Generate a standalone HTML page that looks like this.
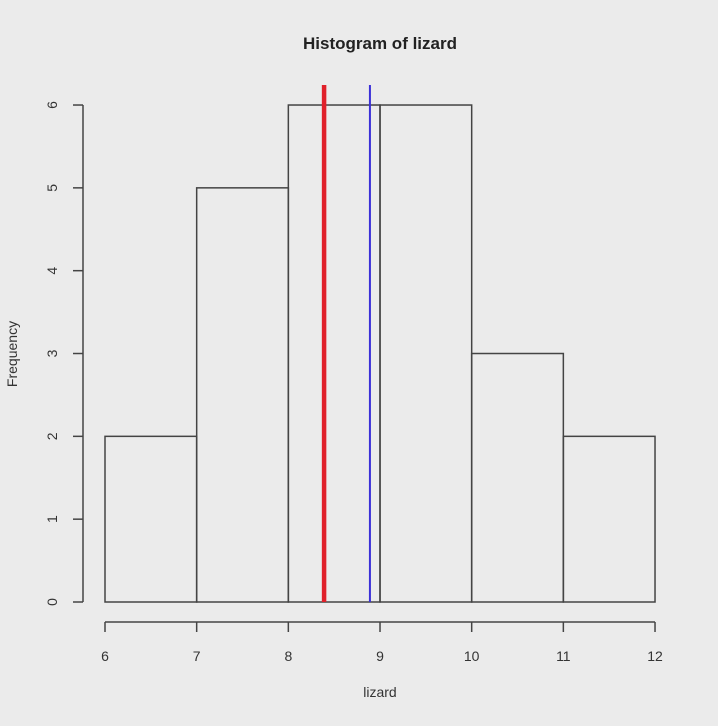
<!DOCTYPE html>
<html><head><meta charset="utf-8"><style>
html,body{margin:0;padding:0;background:#ebebeb;}
svg{display:block;font-family:"Liberation Sans",Arial,sans-serif;}
</style></head><body>
<svg id="chart" width="718" height="726" viewBox="0 0 718 726" xmlns="http://www.w3.org/2000/svg">
<rect width="718" height="726" fill="#ebebeb"/>
<text x="380" y="49" text-anchor="middle" font-size="17" font-weight="bold" fill="#222">Histogram of lizard</text>
<text x="380" y="697" text-anchor="middle" font-size="14" fill="#333">lizard</text>
<text transform="translate(17,354) rotate(-90)" text-anchor="middle" font-size="14" fill="#333">Frequency</text>
<g id="bars"></g><g id="axes"></g><g id="lines"></g>
</svg>
<script>
const binEdges=[6,7,8,9,10,11,12];
const counts=[2,5,6,6,3,2];
const xTicks=[6,7,8,9,10,11,12];
const yTicks=[0,1,2,3,4,5,6];
const redValue=8.39;
const blueValue=8.89;
const NS="http://www.w3.org/2000/svg";
function xs(v){return 105+(v-6)*91.67;}
function ys(v){return 602-v*82.83;}
function mk(t,a,p){const e=document.createElementNS(NS,t);for(const k in a)e.setAttribute(k,a[k]);p.appendChild(e);return e;}
const bars=document.getElementById('bars'),axes=document.getElementById('axes'),lines=document.getElementById('lines');
counts.forEach((c,i)=>{
 const r=mk('rect',{x:xs(binEdges[i]),y:ys(c),width:xs(binEdges[i+1])-xs(binEdges[i]),height:ys(0)-ys(c),fill:'none',stroke:'#444','stroke-width':1.5},bars);
 
 
});
let xl=mk('line',{x1:xs(xTicks[0]),x2:xs(xTicks[xTicks.length-1]),y1:622,y2:622,stroke:'#444','stroke-width':1.5},axes);


xTicks.forEach(t=>{
 const l=mk('line',{x1:xs(t),x2:xs(t),y1:622,y2:632,stroke:'#444','stroke-width':1.5},axes);
 
 
 const tx=mk('text',{x:xs(t),y:661,'text-anchor':'middle','font-size':14,fill:'#333'},axes);
 tx.textContent=t;
 
 
});
let yl=mk('line',{x1:83,x2:83,y1:ys(yTicks[0]),y2:ys(yTicks[yTicks.length-1]),stroke:'#444','stroke-width':1.5},axes);


yTicks.forEach(t=>{
 const l=mk('line',{x1:73,x2:83,y1:ys(t),y2:ys(t),stroke:'#444','stroke-width':1.5},axes);
 
 
 const tx=mk('text',{transform:'translate(57,'+ys(t)+') rotate(-90)','text-anchor':'middle','font-size':14,fill:'#333'},axes);
 tx.textContent=t;
 
 
});
const rl=mk('line',{x1:xs(redValue),x2:xs(redValue),y1:85,y2:602,stroke:'#e0202a','stroke-width':4.5},lines);


const bl=mk('line',{x1:xs(blueValue),x2:xs(blueValue),y1:85,y2:602,stroke:'#3a2fd8','stroke-width':2},lines);


</script>
</body></html>
